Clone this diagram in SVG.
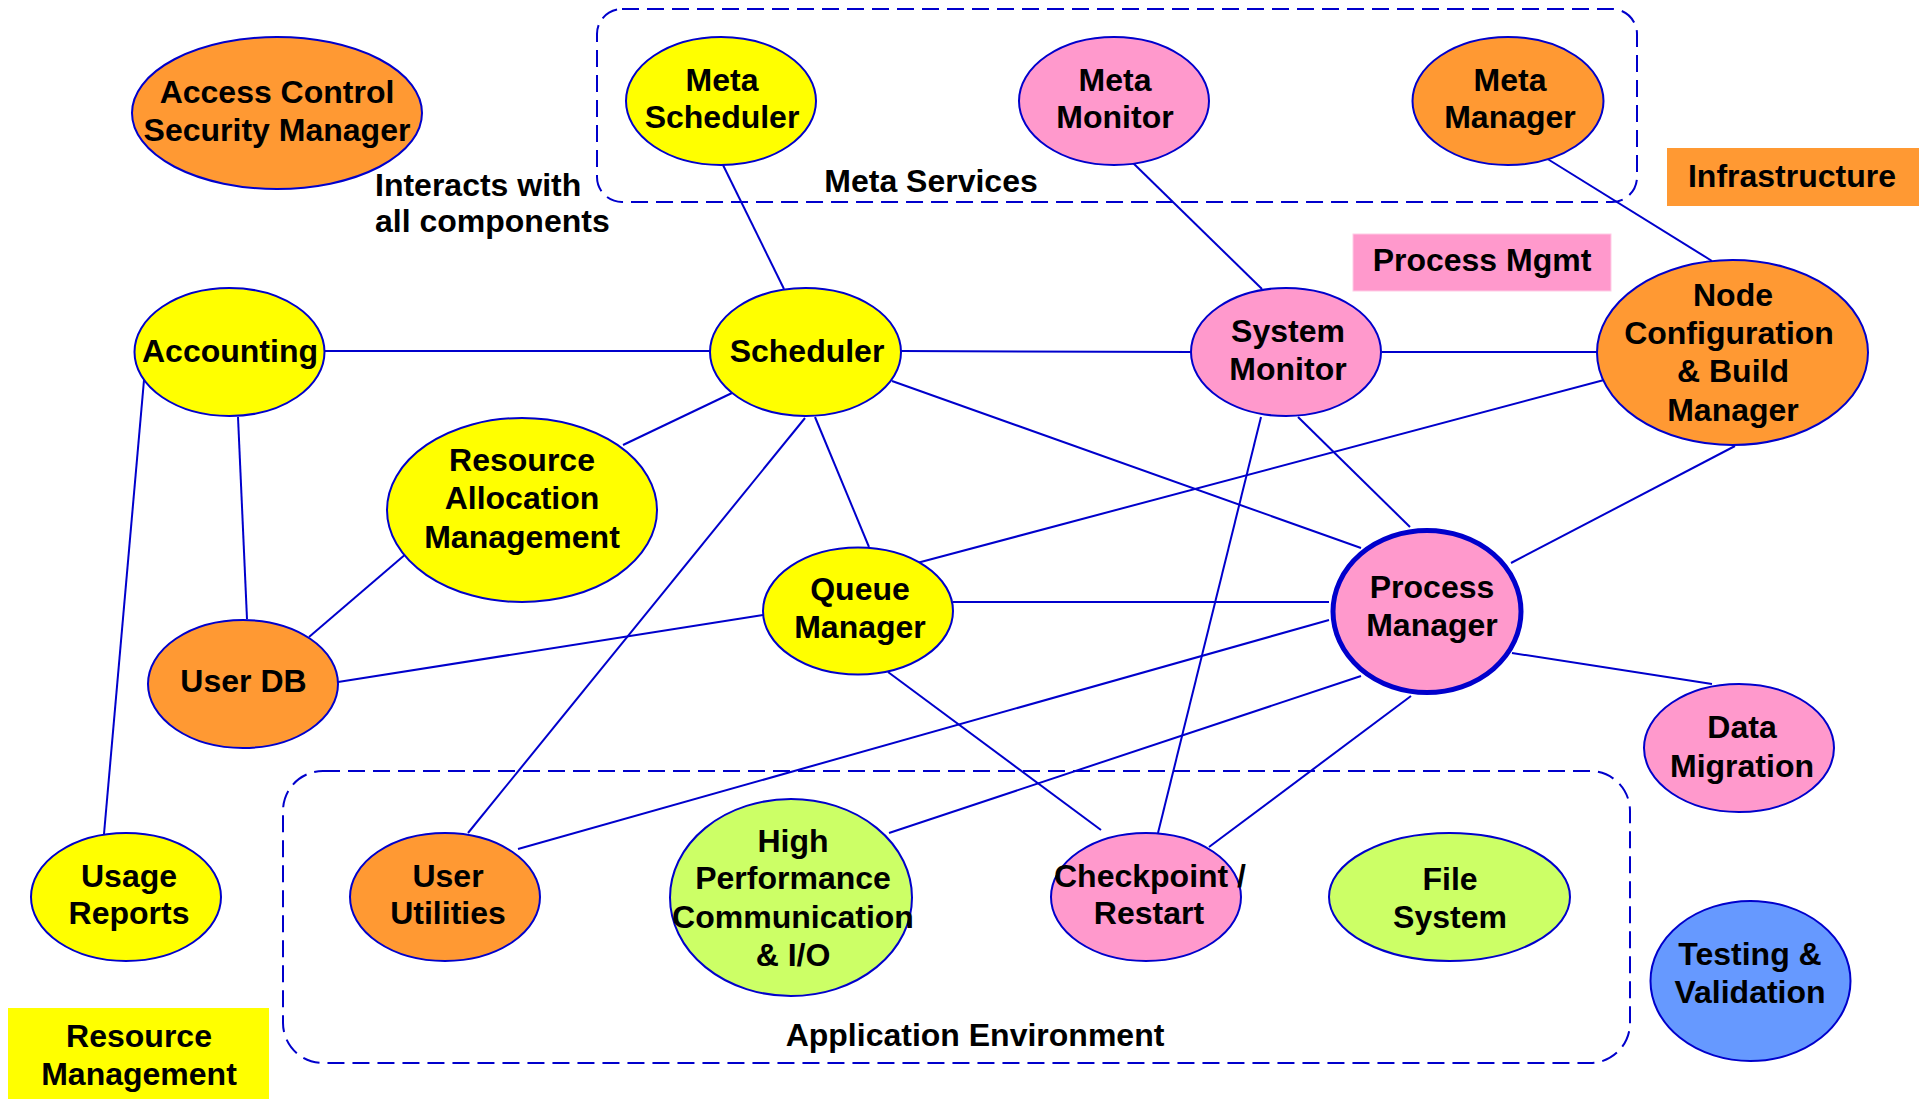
<svg xmlns="http://www.w3.org/2000/svg" width="1919" height="1099" viewBox="0 0 1919 1099">
  <style>
    .node { stroke: #0000CC; stroke-width: 2; }
    .node.core { stroke-width: 5; }
    .orange { fill: #FF9933; }
    .yellow { fill: #FFFF00; }
    .pink { fill: #FF99CC; }
    .green { fill: #CCFF66; }
    .blue { fill: #6699FF; }
    .group { fill: none; stroke: #0000CC; stroke-width: 2; stroke-dasharray: 17 8; }
    .edge { stroke: #0000CC; stroke-width: 2; fill: none; }
    text { font-family: "Liberation Sans", Arial, sans-serif; font-weight: bold; font-size: 32px; fill: #000000; }
    .c { text-anchor: middle; }
  </style>

  <rect width="1919" height="1099" fill="#FFFFFF"/>

  <!-- grouping frames -->
  <g id="meta-services">
    <rect class="group" x="597" y="9" width="1040" height="193" rx="25" ry="25"/>
    <text class="c" x="931" y="192">Meta Services</text>
  </g>
  <g id="application-environment">
    <rect class="group" x="283" y="771" width="1347" height="292" rx="40" ry="40"/>
    <text class="c" x="975" y="1046">Application Environment</text>
  </g>

  <!-- legend boxes -->
  <g id="legend-infrastructure">
    <rect class="orange" x="1667" y="148" width="252" height="58"/>
    <text class="c" x="1792" y="187">Infrastructure</text>
  </g>
  <g id="legend-process-mgmt">
    <rect class="pink" x="1353" y="234" width="258" height="57" stroke="#FFCCE6" stroke-width="1"/>
    <text class="c" x="1482" y="271">Process Mgmt</text>
  </g>
  <g id="legend-resource-management">
    <rect class="yellow" x="8" y="1008" width="261" height="91"/>
    <text class="c" x="139" y="1047">Resource</text>
    <text class="c" x="139" y="1085">Management</text>
  </g>

  <text id="note-interacts" x="375" y="196">Interacts with</text>
  <text x="375" y="232">all components</text>

  <!-- connectors -->
  <g id="connectors">
    <line class="edge" x1="723" y1="165" x2="784" y2="289"/>
    <line class="edge" x1="1131" y1="161" x2="1262" y2="289"/>
    <line class="edge" x1="1546" y1="158" x2="1712" y2="261"/>
    <line class="edge" x1="324" y1="351" x2="710" y2="351"/>
    <line class="edge" x1="901" y1="351" x2="1191" y2="352"/>
    <line class="edge" x1="1382" y1="352" x2="1597" y2="352"/>
    <line class="edge" x1="732" y1="393" x2="623" y2="445"/>
    <line class="edge" x1="815" y1="417" x2="869" y2="547"/>
    <line class="edge" x1="805" y1="418" x2="468" y2="833"/>
    <line class="edge" x1="892" y1="381" x2="1361" y2="548"/>
    <line class="edge" x1="238" y1="417" x2="247" y2="619"/>
    <line class="edge" x1="144" y1="380" x2="104" y2="834"/>
    <line class="edge" x1="407" y1="553" x2="309" y2="637"/>
    <line class="edge" x1="338" y1="682" x2="763" y2="615"/>
    <line class="edge" x1="917" y1="563" x2="1604" y2="380"/>
    <line class="edge" x1="953" y1="602" x2="1329" y2="602"/>
    <line class="edge" x1="888" y1="672" x2="1101" y2="830"/>
    <line class="edge" x1="1298" y1="417" x2="1410" y2="527"/>
    <line class="edge" x1="1261" y1="417" x2="1158" y2="833"/>
    <line class="edge" x1="1735" y1="446" x2="1511" y2="563"/>
    <line class="edge" x1="1512" y1="653" x2="1712" y2="684"/>
    <line class="edge" x1="1329" y1="620" x2="518" y2="849"/>
    <line class="edge" x1="1361" y1="676" x2="889" y2="833"/>
    <line class="edge" x1="1411" y1="696" x2="1209" y2="847"/>
  </g>

  <!-- nodes -->
  <g id="access-control">
    <ellipse class="node orange" cx="277" cy="113" rx="145" ry="76"/>
    <text class="c" x="277" y="103">Access Control</text>
    <text class="c" x="277" y="141">Security Manager</text>
  </g>
  <g id="meta-scheduler">
    <ellipse class="node yellow" cx="721" cy="101" rx="95" ry="64"/>
    <text class="c" x="722" y="91">Meta</text>
    <text class="c" x="722" y="128">Scheduler</text>
  </g>
  <g id="meta-monitor">
    <ellipse class="node pink" cx="1114" cy="101" rx="95" ry="64"/>
    <text class="c" x="1115" y="91">Meta</text>
    <text class="c" x="1115" y="128">Monitor</text>
  </g>
  <g id="meta-manager">
    <ellipse class="node orange" cx="1508" cy="101" rx="95.5" ry="64"/>
    <text class="c" x="1510" y="91">Meta</text>
    <text class="c" x="1510" y="128">Manager</text>
  </g>
  <g id="accounting">
    <ellipse class="node yellow" cx="229.5" cy="352" rx="95" ry="64"/>
    <text class="c" x="230" y="362">Accounting</text>
  </g>
  <g id="scheduler">
    <ellipse class="node yellow" cx="805.5" cy="352" rx="95.5" ry="64"/>
    <text class="c" x="807" y="362">Scheduler</text>
  </g>
  <g id="system-monitor">
    <ellipse class="node pink" cx="1286" cy="352" rx="95" ry="64"/>
    <text class="c" x="1288" y="342">System</text>
    <text class="c" x="1288" y="380">Monitor</text>
  </g>
  <g id="node-configuration">
    <ellipse class="node orange" cx="1732.5" cy="352.5" rx="135.5" ry="92.5"/>
    <text class="c" x="1733" y="306">Node</text>
    <text class="c" x="1729" y="344">Configuration</text>
    <text class="c" x="1733" y="382">&amp; Build</text>
    <text class="c" x="1733" y="421">Manager</text>
  </g>
  <g id="resource-allocation">
    <ellipse class="node yellow" cx="522" cy="510" rx="135" ry="92"/>
    <text class="c" x="522" y="471">Resource</text>
    <text class="c" x="522" y="509">Allocation</text>
    <text class="c" x="522" y="548">Management</text>
  </g>
  <g id="user-db">
    <ellipse class="node orange" cx="243" cy="684" rx="95" ry="64"/>
    <text class="c" x="243.5" y="692">User DB</text>
  </g>
  <g id="queue-manager">
    <ellipse class="node yellow" cx="858" cy="611" rx="95" ry="63.5"/>
    <text class="c" x="860" y="600">Queue</text>
    <text class="c" x="860" y="638">Manager</text>
  </g>
  <g id="process-manager">
    <ellipse class="node core pink" cx="1427" cy="611.5" rx="94" ry="81"/>
    <text class="c" x="1432" y="598">Process</text>
    <text class="c" x="1432" y="636">Manager</text>
  </g>
  <g id="data-migration">
    <ellipse class="node pink" cx="1739" cy="748" rx="95" ry="64"/>
    <text class="c" x="1742" y="738">Data</text>
    <text class="c" x="1742" y="777">Migration</text>
  </g>
  <g id="usage-reports">
    <ellipse class="node yellow" cx="126" cy="897" rx="95" ry="64"/>
    <text class="c" x="129" y="887">Usage</text>
    <text class="c" x="129" y="924">Reports</text>
  </g>
  <g id="user-utilities">
    <ellipse class="node orange" cx="445" cy="897" rx="95" ry="64"/>
    <text class="c" x="448" y="887">User</text>
    <text class="c" x="448" y="924">Utilities</text>
  </g>
  <g id="high-performance">
    <ellipse class="node green" cx="791" cy="897.5" rx="121" ry="98.5"/>
    <text class="c" x="793" y="852">High</text>
    <text class="c" x="793" y="889">Performance</text>
    <text class="c" x="793" y="928">Communication</text>
    <text class="c" x="793" y="966">&amp; I/O</text>
  </g>
  <g id="checkpoint-restart">
    <ellipse class="node pink" cx="1146" cy="897" rx="95" ry="64"/>
    <text class="c" x="1150" y="887">Checkpoint /</text>
    <text class="c" x="1149" y="924">Restart</text>
  </g>
  <g id="file-system">
    <ellipse class="node green" cx="1449.5" cy="897" rx="120.5" ry="64"/>
    <text class="c" x="1450" y="890">File</text>
    <text class="c" x="1450" y="928">System</text>
  </g>
  <g id="testing-validation">
    <ellipse class="node blue" cx="1750.5" cy="981" rx="100" ry="80"/>
    <text class="c" x="1750" y="965">Testing &amp;</text>
    <text class="c" x="1750" y="1003">Validation</text>
  </g>
</svg>
